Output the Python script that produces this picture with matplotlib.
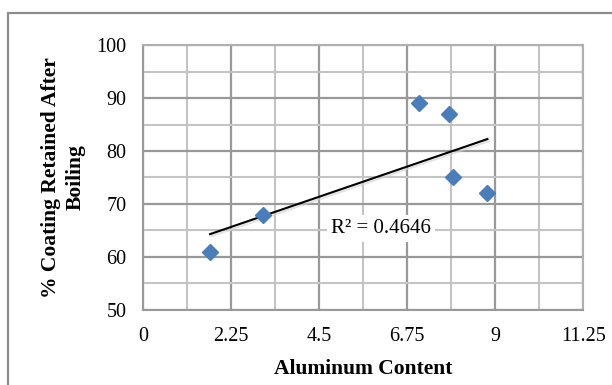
import matplotlib
matplotlib.use('Agg')
import matplotlib.pyplot as plt
import matplotlib.patheffects as pe
import numpy as np

# data
aluminum = [1.71, 3.07, 7.06, 7.83, 7.93, 8.80]
coating = [61, 68, 89, 87, 75, 72]
x_ticks = [0, 2.25, 4.5, 6.75, 9, 11.25]
x_tick_labels = ['0', '2.25', '4.5', '6.75', '9', '11.25']
y_ticks = [50, 60, 70, 80, 90, 100]

plt.rcParams['font.family'] = ['Liberation Serif', 'DejaVu Serif']

fig = plt.figure(figsize=(6.12, 3.85), dpi=100)
ax = fig.add_axes([0.234, 0.195, 0.719, 0.688])

# outer chart border
fig.patches.append(plt.Rectangle((8 / 612, -0.05), 1.2, 1 - 13 / 385 + 0.05,
                                 transform=fig.transFigure, fill=False,
                                 edgecolor='#8c8c8c', linewidth=1.6))

ax.set_xlim(0, 11.25)
ax.set_ylim(50, 100)
ax.set_xticks(x_ticks)
ax.set_xticklabels(x_tick_labels)
ax.set_yticks(y_ticks)
ax.set_xticks(np.arange(1.125, 11.25, 2.25), minor=True)
ax.set_yticks([55, 65, 75, 85, 95], minor=True)
ax.grid(which='major', color='#999999', linewidth=1.6)
ax.grid(which='minor', color='#c4c4c4', linewidth=1.5)
ax.set_axisbelow(True)
for s in ax.spines.values():
    s.set_color('#b0b0b0')
    s.set_linewidth(1.5)
ax.spines['left'].set_color('#999999')
ax.spines['bottom'].set_color('#999999')
ax.tick_params(which='both', length=0)
ax.tick_params(axis='x', pad=12, labelsize=14.5)
ax.tick_params(axis='y', pad=12, labelsize=14.5)

# linear trendline
k, b = np.polyfit(aluminum, coating, 1)
xs = np.array([min(aluminum), max(aluminum)])
ax.plot(xs, k * xs + b, color='black', linewidth=1.5, zorder=3,
        path_effects=[pe.SimpleLineShadow(offset=(1, -1.5), shadow_color='#d0d0d0', alpha=0.6),
                      pe.Normal()])

ax.plot(aluminum, coating, linestyle='none', marker='D', markersize=8,
        color='#4a7ebb', zorder=4)

ax.text(6.08, 65.4, 'R² = 0.4646', fontsize=15, ha='center', va='center', zorder=5,
        bbox=dict(facecolor='white', edgecolor='none', pad=3))

ax.set_xlabel('Aluminum Content', fontsize=15.5, fontweight='bold', labelpad=10)
ax.set_ylabel('% Coating Retained After\nBoiling', fontsize=15.5, fontweight='bold',
              labelpad=8, linespacing=1.3)

plt.savefig('out.png', dpi=100)
